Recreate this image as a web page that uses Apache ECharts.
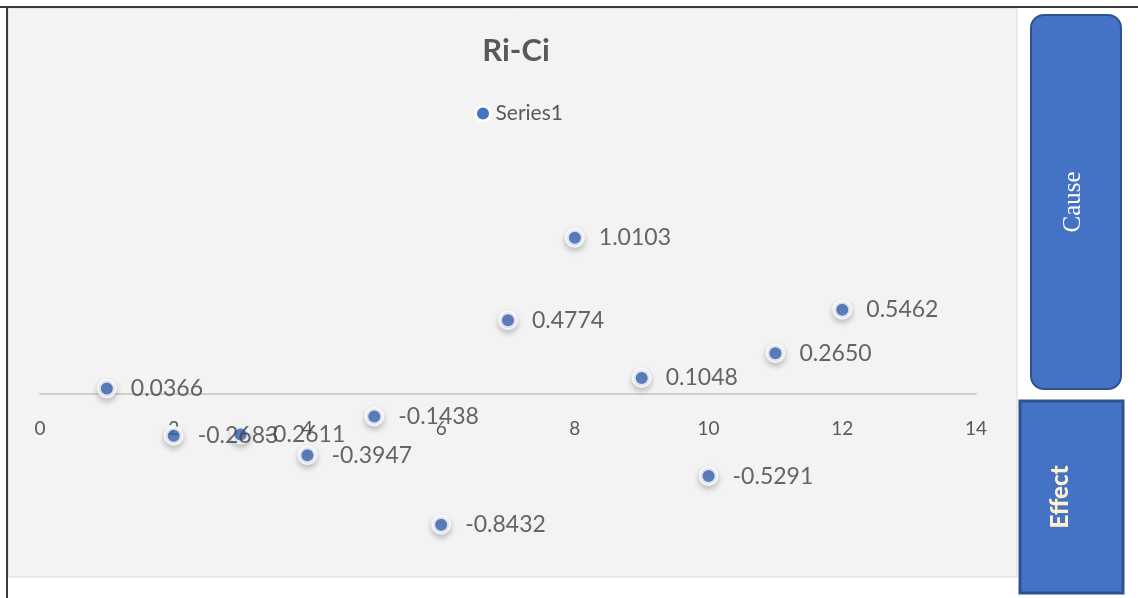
<!DOCTYPE html>
<html>
<head>
<meta charset="utf-8">
<title>Ri-Ci</title>
<script src="https://cdn.jsdelivr.net/npm/echarts@6/dist/echarts.min.js"></script>
<style>
  html, body { margin: 0; padding: 0; background: #ffffff; }
  #chart { width: 1138px; height: 598px; }
</style>
</head>
<body>
<div id="chart"></div>
<script>
// criteria index on x, Ri-Ci on y
const criteria = [1, 2, 3, 4, 5, 6, 7, 8, 9, 10, 11, 12];
const riCi = [0.0366, -0.2683, -0.2611, -0.3947, -0.1438, -0.8432, 0.4774, 1.0103, 0.1048, -0.5291, 0.2650, 0.5462];
const xTicks = [0, 2, 4, 6, 8, 10, 12, 14];
const yMin = -1;
const yMax = 1.5;

const chart = echarts.init(document.getElementById("chart"));

const points = criteria.map((x, i) => [x, riCi[i]]);

// plot area height, used to lift the x axis up to y = 0
const gridTop = 162;
const gridBottom = 49;
const plotH = 598 - gridTop - gridBottom;
const zeroLift = (plotH * (0 - yMin)) / (yMax - yMin);

const options = {
  animation: false,
  textStyle: { fontFamily: "Lato" },
  title: {
    text: "Ri-Ci",
    left: 511,
    top: 30,
    textAlign: "center",
    textStyle: { fontSize: 31, fontWeight: "bold", color: "#595959" },
  },
  legend: {
    data: ["Series1"],
    left: 469,
    top: 98,
    itemWidth: 15,
    itemHeight: 15,
    itemGap: 5,
    textStyle: { fontSize: 21, color: "#595959" },
    itemStyle: { color: "#4472c4", borderColor: "#ffffff", borderWidth: 3, shadowBlur: 0, opacity: 1 },
  },
  grid: { left: 40, right: 162, top: gridTop, bottom: gridBottom },
  xAxis: {
    type: "value",
    min: xTicks[0],
    max: xTicks[xTicks.length - 1],
    interval: 2,
    offset: -zeroLift,
    axisLine: { onZero: false, lineStyle: { color: "#d0d0d0", width: 2 } },
    axisTick: { show: false },
    splitLine: { show: false },
    axisLabel: { fontSize: 19, color: "#595959", margin: 25 },
  },
  yAxis: {
    type: "value",
    min: yMin,
    max: yMax,
    axisLine: { show: false },
    axisTick: { show: false },
    axisLabel: { show: false },
    splitLine: { show: false },
  },
  graphic: [
    // sheet frame and chart area
    {
      type: "rect",
      z: -10,
      shape: { x: 8, y: 8, width: 1009, height: 569 },
      style: { fill: "#f3f3f3", stroke: "#d9d9d9", lineWidth: 1 },
    },
    {
      type: "line",
      z: -5,
      shape: { x1: 0, y1: 7, x2: 1138, y2: 7 },
      style: { stroke: "#3a3a3a", lineWidth: 2 },
    },
    {
      type: "line",
      z: -5,
      shape: { x1: 7, y1: 6, x2: 7, y2: 598 },
      style: { stroke: "#3a3a3a", lineWidth: 2 },
    },
    // Cause box
    {
      type: "rect",
      shape: { x: 1031, y: 15, width: 90, height: 374, r: 13 },
      style: { fill: "#4472c4", stroke: "#2f528f", lineWidth: 2 },
    },
    {
      type: "text",
      x: 1073,
      y: 202,
      rotation: Math.PI / 2,
      style: {
        text: "Cause",
        fill: "#ffffff",
        font: "25px 'Liberation Serif'",
        align: "center",
        verticalAlign: "middle",
      },
    },
    // Effect box
    {
      type: "rect",
      shape: { x: 1020, y: 401, width: 103, height: 192 },
      style: { fill: "#4472c4", stroke: "#2f528f", lineWidth: 3 },
    },
    {
      type: "text",
      x: 1060,
      y: 497,
      rotation: Math.PI / 2,
      style: {
        text: "Effect",
        fill: "#fff2cc",
        font: "900 24px Lato",
        align: "center",
        verticalAlign: "middle",
      },
    },
  ],
  series: [
    {
      name: "Series1",
      type: "scatter",
      data: points,
      symbol: "circle",
      symbolSize: 16,
      itemStyle: {
        color: "#4472c4",
        borderColor: "#ffffff",
        borderWidth: 4,
        shadowColor: "rgba(0,0,0,0.25)",
        shadowBlur: 6,
        shadowOffsetY: 3,
      },
      label: {
        show: true,
        position: "right",
        distance: 14,
        fontSize: 23,
        color: "#404040",
        formatter: (p) => p.value[1].toFixed(4),
      },
    },
  ],
};

chart.setOption(options);
</script>
</body>
</html>
